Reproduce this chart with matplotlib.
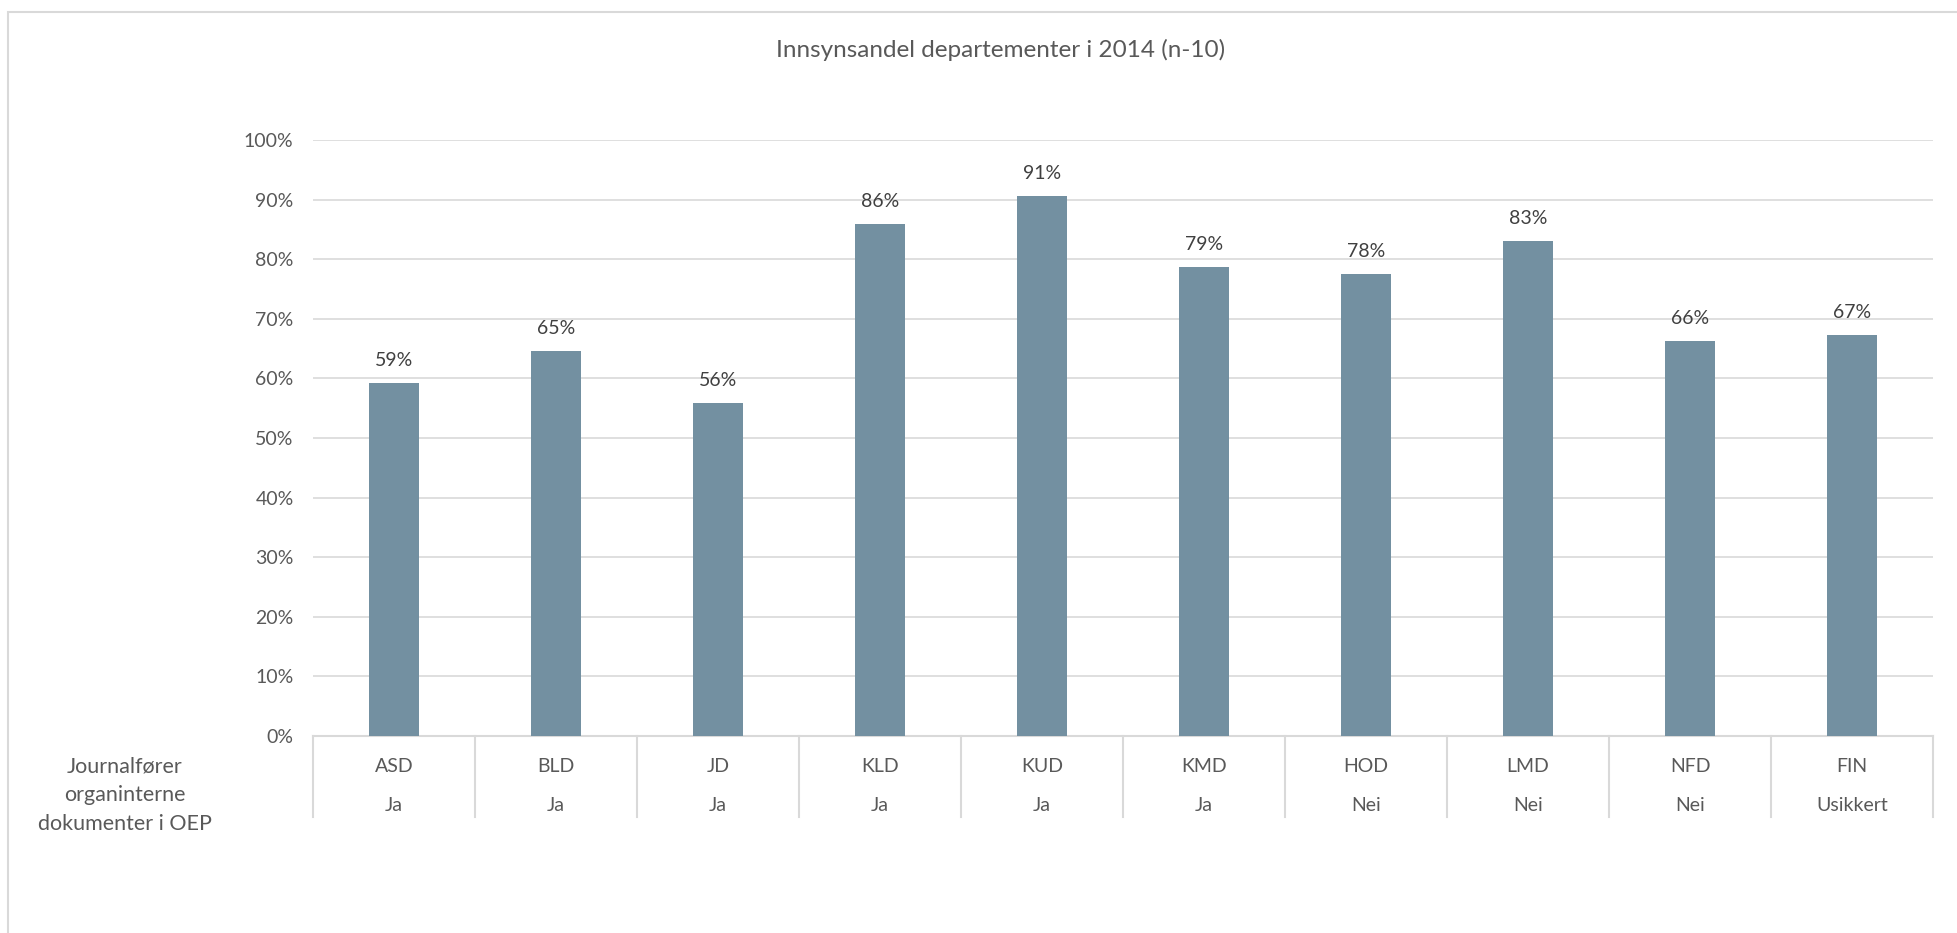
import numpy as np
import matplotlib.pyplot as plt
from matplotlib.patches import Rectangle
from matplotlib.ticker import PercentFormatter

plt.rcParams['font.family'] = ['Lato', 'DejaVu Sans']

# data
departementer = ['ASD', 'BLD', 'JD', 'KLD', 'KUD', 'KMD', 'HOD', 'LMD', 'NFD', 'FIN']
journalforer = ['Ja', 'Ja', 'Ja', 'Ja', 'Ja', 'Ja', 'Nei', 'Nei', 'Nei', 'Usikkert']
andel = [0.592, 0.646, 0.559, 0.859, 0.906, 0.787, 0.776, 0.831, 0.663, 0.673]
yticks = np.arange(0, 1.01, 0.1)

W, H = 1957, 933
fig = plt.figure(figsize=(W / 100, H / 100), dpi=100)

# grå ramme rundt figuren (bare venstre og topp synlig)
fig.patches.append(Rectangle((8 / W, -0.5), 2, 1.5 - 12 / H, transform=fig.transFigure,
                             fill=False, edgecolor='#d9d9d9', linewidth=1.5))

ax = fig.add_axes([313 / W, 1 - 736 / H, (1933 - 313) / W, (736 - 140) / H])
x = np.arange(len(departementer))
bars = ax.bar(x, andel, width=0.31, color='#7390a1', zorder=3)

for xi, v in zip(x, andel):
    ax.annotate(f'{v:.0%}', (xi, v), xytext=(0, 10), textcoords='offset points',
                ha='center', va='bottom', fontsize=14, color='#404040')

ax.set_xlim(-0.5, len(departementer) - 0.5)
ax.set_ylim(0, 1)
ax.set_yticks(yticks)
ax.yaxis.set_major_formatter(PercentFormatter(1.0, decimals=0))
ax.tick_params(axis='y', length=0, pad=14, labelsize=14, labelcolor='#595959')
ax.set_xticks([])
ax.grid(axis='y', color='#d9d9d9', linewidth=1.2, zorder=0)
for s in ['top', 'right', 'left']:
    ax.spines[s].set_visible(False)
ax.spines['bottom'].set_color('#d9d9d9')
ax.spines['bottom'].set_linewidth(1.5)

# kategori-tabell under aksen
trans = ax.get_xaxis_transform()
row1, row2, bunn = -0.052, -0.117, -0.136
for i, (d, j) in enumerate(zip(departementer, journalforer)):
    ax.text(i, row1, d, transform=trans, ha='center', va='center', fontsize=14, color='#595959')
    ax.text(i, row2, j, transform=trans, ha='center', va='center', fontsize=14, color='#595959')
for b in np.arange(-0.5, len(departementer), 1.0):
    ax.plot([b, b], [0, bunn], transform=trans, color='#d9d9d9', linewidth=1.5, clip_on=False)

fig.text(125 / W, 1 - 795 / H, 'Journalfører\norganinterne\ndokumenter i OEP',
         ha='center', va='center', fontsize=15.5, color='#595959', linespacing=1.55)

fig.text(1001 / W, 1 - 50 / H, 'Innsynsandel departementer i 2014 (n-10)',
         ha='center', va='center', fontsize=17.5, color='#595959')

plt.savefig('out.png', dpi=100)
